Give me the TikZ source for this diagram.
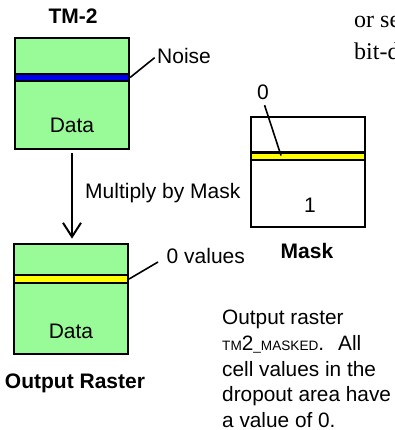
\documentclass[tikz,border=0pt]{standalone}
\usepackage{fontspec}
\setmainfont{Liberation Sans}
\newfontfamily\pageserif{Liberation Serif}
\usepackage{xcolor}
\usetikzlibrary{arrows.meta,positioning}
\definecolor{rastergreen}{RGB}{152,251,152}
\definecolor{noiseblue}{RGB}{0,0,240}
\definecolor{zeroyellow}{RGB}{255,255,0}
\tikzset{
  rasterbox/.style={draw=black,line width=2.2pt,minimum width=114pt,minimum height=110.5pt,inner sep=0pt},
  bandbox/.style={draw=black,line width=2.2pt,minimum width=114pt,minimum height=7.4pt,inner sep=0pt},
  lbl/.style={font=\fontsize{21}{25}\selectfont,inner sep=0pt},
  ttl/.style={font=\fontsize{21}{25}\selectfont\bfseries,inner sep=0pt},
  leader/.style={line width=1.6pt}
}
\newcommand{\fakesc}[1]{{\fontsize{13.6}{16}\selectfont #1}}

\begin{document}
\begin{tikzpicture}[x=1pt,y=-1pt]
\useasboundingbox (0,0) rectangle (394,430);
\foreach \name/\cx/\cy/\fillc/\by/\bandc in {
    tm/72/93.5/rastergreen/77.5/noiseblue,
    out/71/299/rastergreen/279/zeroyellow,
    mask/308/172/white/156.2/zeroyellow} {
    \node[rasterbox,fill=\fillc] (\name) at (\cx,\cy) {};
    \node[bandbox,fill=\bandc] (\name band) at (\cx,\by) {};
}

\node[ttl,anchor=base] (tmtitle) at (73,23.3) {TM-2};
\node[lbl,anchor=base] (tmdata) at (72,133) {Data};
\node[lbl,anchor=base west] (noise) at (157,63.3) {Noise};
\draw[leader,shorten >=3pt] (tmband.east) -- (noise.west);

\node[lbl,anchor=base west] (multiply) at (85,198) {Multiply by Mask};
\draw[line width=2pt,shorten <=3pt,shorten >=4pt,-{Straight Barb[length=14pt,width=18pt]}]
    (tm.south) -- (tm.south |- out.north);

\node[lbl,anchor=base] (outdata) at (71,338) {Data};
\node[lbl,anchor=base west] (zerovalues) at (166.5,263.3) {0 values};
\coordinate (valuestip) at (158,262);
\draw[leader] (outband.east) -- (valuestip);
\node[ttl,anchor=base] (outtitle) at (75,388) {Output Raster};

\node[lbl,anchor=base] (zero) at (263,100) {0};
\coordinate (zerotip) at (281,155.5);
\draw[leader,shorten <=5pt] (zero.south) -- (zerotip);
\node[lbl,anchor=base] (maskone) at (310,212) {1};
\node[ttl,anchor=base] (masktitle) at (307,258) {Mask};

\node[font=\fontsize{20.8}{25.9}\selectfont,align=left,anchor=north west,inner sep=0pt] (note) at (222,309.5)
    {Output raster\\ \fakesc{TM}2\fakesc{\textunderscore MASKED}.\hspace{14pt}All\\ cell values in the\\ dropout area have\\ a value of 0.};

\node[font=\fontsize{24}{32}\pageserif,align=left,anchor=base west,inner sep=0pt] (pagetext) at (354,60)
    {or see\\ bit-depth};
\end{tikzpicture}
\end{document}
